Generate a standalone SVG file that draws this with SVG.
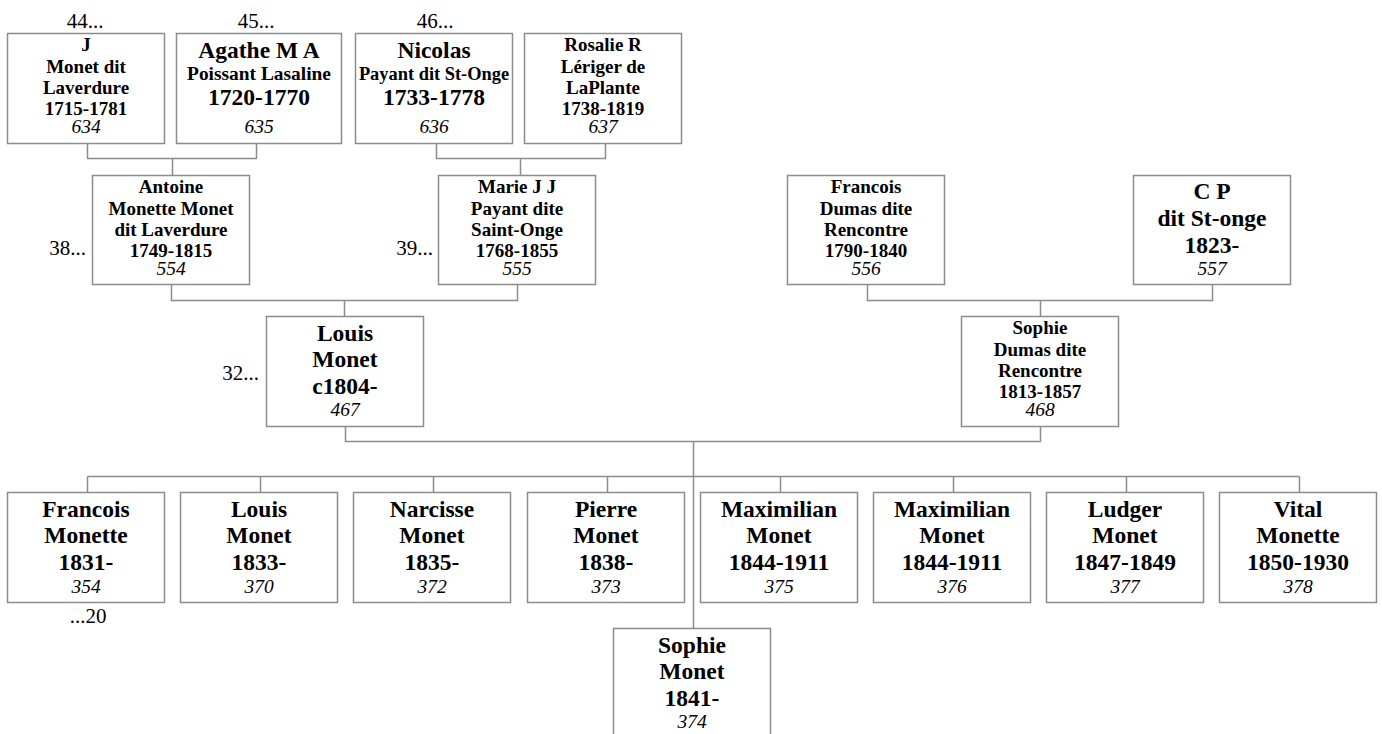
<svg xmlns="http://www.w3.org/2000/svg" width="1382" height="734" viewBox="0 0 1382 734">
<style>
.box{fill:#fff;stroke:#8c8c8c;stroke-width:1.5}
.con{fill:none;stroke:#8c8c8c;stroke-width:1.5}
text{font-family:"Liberation Serif","Times New Roman",serif;fill:#000}
.t{font-weight:bold;font-size:19px;text-anchor:middle}
.b{font-size:23.5px}
.n{font-style:italic;font-weight:normal;font-size:19.5px;text-anchor:middle}
.l{font-size:21px}
.e{text-anchor:end}
.m{text-anchor:middle}
</style>
<rect width="1382" height="734" fill="#fff"/>
<g id="connectors" class="con">
<path d="M87.5 143V158.5H256.5V143M172.5 158.5V175"/>
<path d="M436.5 143V158.5H605.5V143M520.5 158.5V175"/>
<path d="M171.5 284V300.5H517.5V284M344.5 300.5V316"/>
<path d="M867.5 284V300.5H1212.5V284M1040.5 300.5V316"/>
<path d="M345.5 426V441.5H1040.5V426M693.5 441.5V628"/>
<path d="M87.5 476.5H1299.5M87.5 476.5V492M260.5 476.5V492M433.5 476.5V492M607.5 476.5V492M780.5 476.5V492M953.5 476.5V492M1126.5 476.5V492M1299.5 476.5V492"/>
</g>
<g id="labels">
<text class="l m" x="85" y="28">44...</text>
<text class="l m" x="256" y="28">45...</text>
<text class="l m" x="435" y="28">46...</text>
<text class="l e" x="86" y="255">38...</text>
<text class="l e" x="433" y="255">39...</text>
<text class="l e" x="259" y="380">32...</text>
<text class="l m" x="88" y="623">...20</text>
</g>
<g id="n634"><rect class="box" x="7.5" y="33.5" width="157" height="110"/>
<text class="t" x="86" y="51">J</text><text class="t" x="86" y="72.5">Monet dit</text><text class="t" x="86" y="93.5">Laverdure</text><text class="t" x="86" y="114.5">1715-1781</text><text class="n" x="86" y="133">634</text></g>
<g id="n635"><rect class="box" x="176.5" y="33.5" width="165" height="110"/>
<text class="t b" x="259" y="58">Agathe M A</text><text class="t" x="259" y="80" style="font-size:19.4px">Poissant Lasaline</text><text class="t b" x="259" y="105">1720-1770</text><text class="n" x="259" y="133">635</text></g>
<g id="n636"><rect class="box" x="355.5" y="33.5" width="157" height="110"/>
<text class="t b" x="434" y="58">Nicolas</text><text class="t" x="434" y="80" style="font-size:18.4px">Payant dit St-Onge</text><text class="t b" x="434" y="105">1733-1778</text><text class="n" x="434" y="133">636</text></g>
<g id="n637"><rect class="box" x="524.5" y="33.5" width="157" height="110"/>
<text class="t" x="603" y="51">Rosalie R</text><text class="t" x="603" y="72.5">Lériger de</text><text class="t" x="603" y="93.5">LaPlante</text><text class="t" x="603" y="114.5">1738-1819</text><text class="n" x="603" y="133">637</text></g>
<g id="n554"><rect class="box" x="92.5" y="175.5" width="157" height="109"/>
<text class="t" x="171" y="193">Antoine</text><text class="t" x="171" y="214.5">Monette Monet</text><text class="t" x="171" y="235.5">dit Laverdure</text><text class="t" x="171" y="256.5">1749-1815</text><text class="n" x="171" y="275">554</text></g>
<g id="n555"><rect class="box" x="438.5" y="175.5" width="157" height="109"/>
<text class="t" x="517" y="193">Marie J J</text><text class="t" x="517" y="214.5">Payant dite</text><text class="t" x="517" y="235.5">Saint-Onge</text><text class="t" x="517" y="256.5">1768-1855</text><text class="n" x="517" y="275">555</text></g>
<g id="n556"><rect class="box" x="787.5" y="175.5" width="157" height="109"/>
<text class="t" x="866" y="193">Francois</text><text class="t" x="866" y="214.5">Dumas dite</text><text class="t" x="866" y="235.5">Rencontre</text><text class="t" x="866" y="256.5">1790-1840</text><text class="n" x="866" y="275">556</text></g>
<g id="n557"><rect class="box" x="1133.5" y="175.5" width="157" height="109"/>
<text class="t b" x="1212" y="199">C P</text><text class="t b" x="1212" y="226">dit St-onge</text><text class="t b" x="1212" y="253">1823-</text><text class="n" x="1212" y="275">557</text></g>
<g id="n467"><rect class="box" x="266.5" y="316.5" width="157" height="110"/>
<text class="t b" x="345" y="341">Louis</text><text class="t b" x="345" y="367">Monet</text><text class="t b" x="345" y="394">c1804-</text><text class="n" x="345" y="416">467</text></g>
<g id="n468"><rect class="box" x="961.5" y="316.5" width="157" height="110"/>
<text class="t" x="1040" y="334">Sophie</text><text class="t" x="1040" y="355.5">Dumas dite</text><text class="t" x="1040" y="376.5">Rencontre</text><text class="t" x="1040" y="397.5">1813-1857</text><text class="n" x="1040" y="416">468</text></g>
<g id="n354"><rect class="box" x="7.5" y="492.5" width="157" height="110"/>
<text class="t b" x="86" y="517">Francois</text><text class="t b" x="86" y="543">Monette</text><text class="t b" x="86" y="570">1831-</text><text class="n" x="86" y="593">354</text></g>
<g id="n370"><rect class="box" x="180.5" y="492.5" width="157" height="110"/>
<text class="t b" x="259" y="517">Louis</text><text class="t b" x="259" y="543">Monet</text><text class="t b" x="259" y="570">1833-</text><text class="n" x="259" y="593">370</text></g>
<g id="n372"><rect class="box" x="353.5" y="492.5" width="157" height="110"/>
<text class="t b" x="432" y="517">Narcisse</text><text class="t b" x="432" y="543">Monet</text><text class="t b" x="432" y="570">1835-</text><text class="n" x="432" y="593">372</text></g>
<g id="n373"><rect class="box" x="527.5" y="492.5" width="157" height="110"/>
<text class="t b" x="606" y="517">Pierre</text><text class="t b" x="606" y="543">Monet</text><text class="t b" x="606" y="570">1838-</text><text class="n" x="606" y="593">373</text></g>
<g id="n375"><rect class="box" x="700.5" y="492.5" width="157" height="110"/>
<text class="t b" x="779" y="517">Maximilian</text><text class="t b" x="779" y="543">Monet</text><text class="t b" x="779" y="570">1844-1911</text><text class="n" x="779" y="593">375</text></g>
<g id="n376"><rect class="box" x="873.5" y="492.5" width="157" height="110"/>
<text class="t b" x="952" y="517">Maximilian</text><text class="t b" x="952" y="543">Monet</text><text class="t b" x="952" y="570">1844-1911</text><text class="n" x="952" y="593">376</text></g>
<g id="n377"><rect class="box" x="1046.5" y="492.5" width="157" height="110"/>
<text class="t b" x="1125" y="517">Ludger</text><text class="t b" x="1125" y="543">Monet</text><text class="t b" x="1125" y="570">1847-1849</text><text class="n" x="1125" y="593">377</text></g>
<g id="n378"><rect class="box" x="1219.5" y="492.5" width="157" height="110"/>
<text class="t b" x="1298" y="517">Vital</text><text class="t b" x="1298" y="543">Monette</text><text class="t b" x="1298" y="570">1850-1930</text><text class="n" x="1298" y="593">378</text></g>
<g id="n374"><rect class="box" x="613.5" y="628.5" width="157" height="110"/>
<text class="t b" x="692" y="653">Sophie</text><text class="t b" x="692" y="679">Monet</text><text class="t b" x="692" y="706">1841-</text><text class="n" x="692" y="728">374</text></g>
</svg>
